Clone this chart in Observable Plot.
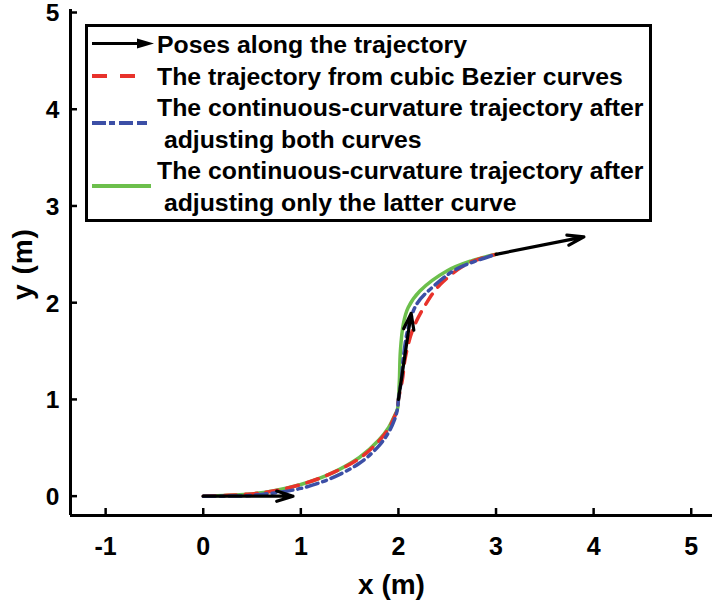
<!DOCTYPE html>
<html>
<head>
<meta charset="utf-8">
<script src="https://cdn.jsdelivr.net/npm/d3@7"></script>
<script src="https://cdn.jsdelivr.net/npm/@observablehq/plot@0.6"></script>
<style>
  html, body { margin: 0; padding: 0; background: #fff; }
  #wrap { position: relative; width: 712px; height: 607px; overflow: hidden; }
  #wrap svg { display: block; }
  #legend { position: absolute; left: 0; top: 0; }
</style>
</head>
<body>
<div id="wrap"></div>
<script>
// ---- data ----
const xTicks = [-1, 0, 1, 2, 3, 4, 5];
const yTicks = [0, 1, 2, 3, 4, 5];

// poses (arrows)
const poseX1 = [0, 2.0, 3.0];
const poseY1 = [0, 1.0, 2.5];
const poseX2 = [0.92, 2.13, 3.9];
const poseY2 = [0, 1.89, 2.68];

// trajectory from cubic Bezier curves (red)
const bezierX = [0, 0.45, 0.7, 1.0, 1.3, 1.6, 1.8, 1.9, 1.95, 1.99, 2.0, 2.04, 2.07, 2.15, 2.29, 2.43, 2.7, 3.0];
const bezierY = [0, 0.02, 0.05, 0.12, 0.23, 0.39, 0.57, 0.7, 0.8, 0.9, 1.0, 1.2, 1.43, 1.73, 2.0, 2.19, 2.4, 2.5];

// continuous curvature, both curves adjusted (blue)
const bothX = [0, 0.45, 0.7, 1.0, 1.3, 1.6, 1.8, 1.9, 1.96, 1.99, 2.0, 2.03, 2.05, 2.1, 2.19, 2.36, 2.6, 3.0];
const bothY = [0, 0.005, 0.03, 0.08, 0.18, 0.34, 0.52, 0.66, 0.79, 0.9, 1.0, 1.2, 1.43, 1.74, 1.99, 2.17, 2.35, 2.5];

// continuous curvature, only latter curve adjusted (green)
const latterX = [0, 0.45, 0.7, 1.0, 1.3, 1.6, 1.8, 1.9, 1.95, 1.99, 2.0, 2.01, 2.02, 2.05, 2.1, 2.22, 2.5, 2.74, 3.0];
const latterY = [0, 0.02, 0.05, 0.12, 0.23, 0.4, 0.58, 0.71, 0.81, 0.9, 1.0, 1.2, 1.5, 1.78, 1.95, 2.12, 2.33, 2.43, 2.5];

const legendLabels = [
  "Poses along the trajectory",
  "The trajectory from cubic Bezier curves",
  "The continuous-curvature trajectory after",
  " adjusting both curves",
  "The continuous-curvature trajectory after",
  " adjusting only the latter curve"
];
const xLabel = "x (m)";
const yLabel = "y (m)";

const colors = { red: "#e8322b", blue: "#3c4fa6", green: "#6cbf4c", black: "#000" };

// ---- build tables ----
const toPts = (xs, ys) => xs.map((x, i) => ({ x, y: ys[i] }));
const poses = poseX1.map((x, i) => ({ x1: x, y1: poseY1[i], x2: poseX2[i], y2: poseY2[i] }));

const FONT = "'Liberation Sans', Arial, Helvetica, sans-serif";
const xMin = -1.36, xMax = 5.218, yMin = -0.2, yMax = 5;

const chart = Plot.plot({
  width: 712,
  height: 607,
  marginLeft: 70,
  marginRight: 0,
  marginTop: 12,
  marginBottom: 92,
  style: { fontFamily: FONT, background: "#fff", overflow: "visible" },
  x: { domain: [xMin, xMax], label: null },
  y: { domain: [yMin, yMax], label: null },
  marks: [
    // tick marks pointing inward
    Plot.axisX({ ticks: xTicks, tickSize: -7, tickFormat: () => "", strokeWidth: 2.5 }),
    Plot.axisY({ ticks: yTicks, tickSize: -7, tickFormat: () => "", strokeWidth: 2.5 }),
    // tick labels
    Plot.axisX({ ticks: xTicks, tickSize: 0, tickPadding: 22, fontSize: 25, fontWeight: "bold", tickFormat: d => String(d) }),
    Plot.axisY({ ticks: yTicks, tickSize: 0, tickPadding: 11, fontSize: 24.5, fontWeight: "bold", tickFormat: d => String(d), dy: 1 }),
    // axis lines
    Plot.ruleY([yMin], { strokeWidth: 3 }),
    Plot.ruleX([xMin], { y1: yMin, y2: 5.03, strokeWidth: 3 }),
    // curves
    Plot.line(toPts(latterX, latterY), { x: "x", y: "y", stroke: colors.green, strokeWidth: 3.5, curve: "catmull-rom" }),
    Plot.line(toPts(bezierX, bezierY), { x: "x", y: "y", stroke: colors.red, strokeWidth: 3.5, strokeDasharray: "12 9", curve: "catmull-rom" }),
    Plot.line(toPts(bothX, bothY), { x: "x", y: "y", stroke: colors.blue, strokeWidth: 3.5, strokeDasharray: "12 5 4 5", curve: "catmull-rom" }),
    // poses
    Plot.arrow(poses, { x1: "x1", y1: "y1", x2: "x2", y2: "y2", stroke: colors.black, strokeWidth: 3.2, headLength: 8, headAngle: 35 }),
    // x axis title
    Plot.text([xLabel], { frameAnchor: "bottom", dy: 70, fontSize: 28, fontWeight: "bold", fill: "#000", lineAnchor: "middle", letterSpacing: "1px" })
  ]
});

const wrap = document.getElementById("wrap");
wrap.appendChild(chart);

// ---- legend overlay + y title ----
const ns = "http://www.w3.org/2000/svg";
const lg = document.createElementNS(ns, "svg");
lg.setAttribute("id", "legend");
lg.setAttribute("width", 712);
lg.setAttribute("height", 607);
lg.setAttribute("font-family", FONT);
function el(tag, attrs) {
  const e = document.createElementNS(ns, tag);
  for (const k in attrs) e.setAttribute(k, attrs[k]);
  lg.appendChild(e);
  return e;
}
// y axis title
const yt = el("text", { transform: "translate(32,264) rotate(-90)", "text-anchor": "middle", "font-size": 28, "font-weight": "bold", fill: "#000", "letter-spacing": "1px" });
yt.textContent = yLabel;

el("rect", { x: 86.5, y: 25.5, width: 564, height: 195, fill: "#fff", stroke: "#000", "stroke-width": 3 });
// sample: arrow
el("line", { x1: 92, y1: 43.5, x2: 140, y2: 43.5, stroke: "#000", "stroke-width": 3.2 });
el("path", { d: "M137,38.5 L154,43.5 L137,48.5 Z", fill: "#000" });
// sample: red dashed
el("line", { x1: 92, y1: 76, x2: 137, y2: 76, stroke: colors.red, "stroke-width": 4, "stroke-dasharray": "15 13" });
// sample: blue dash-dot
el("line", { x1: 92, y1: 123, x2: 147, y2: 123, stroke: colors.blue, "stroke-width": 4, "stroke-dasharray": "14 3 6 4 14 4" });
// sample: green solid
el("line", { x1: 92, y1: 186, x2: 151, y2: 186, stroke: colors.green, "stroke-width": 4 });
const baselines = [53, 84.5, 116, 147.5, 179, 210.5];
legendLabels.forEach((t, i) => {
  const tx = el("text", { x: 157, y: baselines[i], "font-size": 24.8, "font-weight": "bold", fill: "#000" });
  tx.setAttribute("xml:space", "preserve");
  tx.style.whiteSpace = "pre";
  tx.textContent = t;
});
wrap.appendChild(lg);
</script>
</body>
</html>
